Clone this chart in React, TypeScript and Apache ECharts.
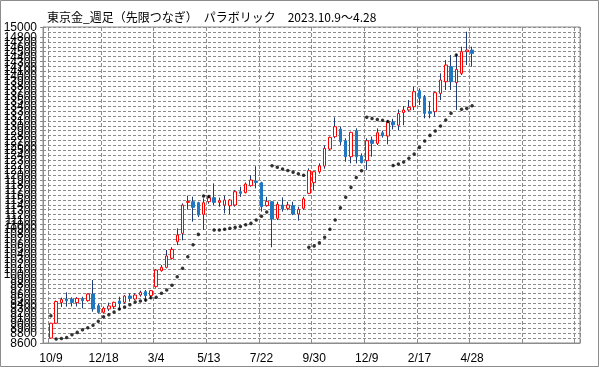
import React, { useEffect, useRef } from "react";
import * as echarts from "echarts";

const title = "東京金_週足（先限つなぎ）　パラボリック　2023.10.9～4.28";

const dates = [
  "10/9", "10/16", "10/23", "10/30", "11/6", "11/13", "11/20", "11/27", "12/4", "12/11", "12/18", "12/25",
  "1/8", "1/15", "1/22", "1/29", "2/5", "2/12", "2/19", "2/26", "3/4", "3/11", "3/18", "3/25",
  "4/1", "4/8", "4/15", "4/22", "4/29", "5/6", "5/13", "5/20", "5/27", "6/3", "6/10", "6/17", "6/24",
  "7/1", "7/8", "7/15", "7/22", "7/29", "8/5", "8/12", "8/19", "8/26", "9/2", "9/9", "9/16", "9/23",
  "9/30", "10/7", "10/14", "10/21", "10/28", "11/4", "11/11", "11/18", "11/25", "12/2", "12/9",
  "12/16", "12/23", "12/30", "1/6", "1/13", "1/20", "1/27", "2/3", "2/10", "2/17", "2/24", "3/3",
  "3/10", "3/17", "3/24", "3/31", "4/7", "4/14", "4/21", "4/28",
];

// [open, close, low, high]
const ohlc = [
  [8700, 9000, 8690, 9010], [9000, 9440, 8990, 9460], [9420, 9480, 9330, 9520], [9490, 9455, 9336, 9626],
  [9490, 9420, 9340, 9525], [9417, 9504, 9340, 9530], [9504, 9457, 9302, 9538], [9457, 9592, 9437, 9606],
  [9592, 9289, 9235, 9876], [9356, 9221, 9201, 9390], [9221, 9302, 9201, 9336], [9289, 9350, 9248, 9417],
  [9336, 9424, 9289, 9437], [9451, 9403, 9268, 9538], [9424, 9552, 9390, 9572], [9552, 9504, 9437, 9606],
  [9491, 9572, 9471, 9606], [9572, 9626, 9538, 9660], [9640, 9559, 9437, 9673], [9559, 9660, 9504, 9673],
  [9741, 10078, 9720, 10100], [10065, 10132, 10045, 10180], [10132, 10362, 10112, 10483], [10315, 10496, 10290, 10540],
  [10652, 10787, 10584, 10922], [10820, 11394, 10680, 11428], [11448, 11468, 11300, 11583], [11462, 11347, 11057, 11563],
  [11441, 11192, 11150, 11460], [11205, 11441, 10888, 11529], [11462, 11543, 11420, 11583], [11543, 11448, 11394, 11833],
  [11448, 11482, 11360, 11543], [11394, 11495, 11225, 11583], [11381, 11495, 11210, 11515], [11394, 11664, 11360, 11698],
  [11664, 11630, 11560, 11765], [11645, 11820, 11630, 11850], [11786, 11900, 11765, 12002], [11880, 11850, 11732, 12180],
  [11846, 11360, 11260, 11866], [11381, 11470, 11361, 11560], [11462, 11111, 10538, 11470], [11125, 11408, 11090, 11460],
  [11395, 11314, 11260, 11550], [11327, 11395, 11290, 11460], [11381, 11213, 11190, 11460], [11213, 11307, 11078, 11360],
  [11327, 11520, 11300, 11560], [11631, 12090, 11615, 12137], [11847, 12070, 11698, 12070], [12070, 12184, 12030, 12240],
  [12184, 12542, 12130, 12600], [12528, 12765, 12500, 12780], [12778, 12981, 12745, 13170], [12933, 12677, 12610, 12980],
  [12697, 12373, 12272, 12745], [12373, 12866, 12238, 12880], [12900, 12373, 12238, 12947], [12387, 12251, 12238, 12440],
  [12292, 12697, 12103, 12745], [12710, 12643, 12373, 12780], [12643, 12859, 12610, 12947], [12859, 12798, 12760, 12900],
  [12792, 13068, 12623, 13116], [13075, 13020, 12926, 13140], [13010, 13250, 12914, 13330], [13268, 13318, 13010, 13400],
  [13318, 13372, 13285, 13520], [13386, 13690, 13318, 13791], [13710, 13555, 13420, 13757], [13575, 13251, 13150, 13622],
  [13285, 13251, 13150, 13487], [13285, 13670, 13184, 13690], [13656, 13926, 13521, 14061], [13892, 14230, 13724, 14331],
  [14196, 13892, 13724, 14432], [13872, 14142, 13319, 14452], [14061, 14500, 14027, 14601], [14500, 14533, 14230, 14905],
  [14533, 14466, 14196, 14601],
];

const sar = [
  9150, 8681, 8690, 8710, 8765, 8815, 8870, 8910, 8960, 9040, 9130, 9170, 9228, 9289, 9329, 9376,
  9430, 9450, 9471, 9517, 9525, 9606, 9673, 9768, 9940, 10112, 10348, 10590, 10800, 11578, 11565,
  10888, 10888, 10902, 10922, 10942, 10960, 10995, 11023, 11090, 11165, 11253, 12191, 12158, 12125,
  12093, 12061, 12030, 11999, 10538, 10565, 10632, 10740, 10902, 11091, 11337, 11553, 11752, 11950,
  12090, 13170, 13149, 13128, 13110, 13088, 12195, 12225, 12265, 12340, 12430, 12562, 12690, 12805,
  12893, 12994, 13116, 13251, 14432, 13332, 13352, 13406,
];

const yMin = 8600;
const yMax = 15000;
const yStep = 100;
const leadSlots = 1;
const tailSlots = 20;

export default function App() {
  const ref = useRef<HTMLDivElement>(null);
  useEffect(() => {
    if (!ref.current) return;
    const chart = echarts.init(ref.current, null, { renderer: "svg" });
    const cats: string[] = [];
    for (let i = 0; i < leadSlots; i++) cats.push("");
    dates.forEach((d) => cats.push(d));
    for (let i = 0; i < tailSlots; i++) cats.push("");
    const isMajor = (idx: number) => (idx - leadSlots) % 10 === 0 && idx >= leadSlots;
    const wick = ohlc.map((d, i) => [i + leadSlots, d[0], d[1], d[2], d[3]]);
    const body = ohlc.map((d, i) => [i + leadSlots, d[0], d[1], Math.min(d[0], d[1]), Math.max(d[0], d[1])]);
    const dots = sar.map((v, i) => [i + leadSlots, v]);
    const gridColor = "#8c8c8c";
    chart.setOption({
      animation: false,
      title: {
        text: title,
        left: 42,
        top: 5,
        textStyle: { fontSize: 12, fontWeight: "normal", color: "#000", fontFamily: "Noto Sans CJK JP" },
      },
      graphic: [
        {
          type: "rect",
          shape: { x: 0.5, y: 0.5, width: 598, height: 366 },
          style: { fill: "none", stroke: "#8c8c8c", lineWidth: 1 },
          silent: true,
        },
      ],
      grid: {
        left: 43,
        right: 19,
        top: 27,
        bottom: 26,
        show: true,
        borderColor: gridColor,
        borderWidth: 1,
      },
      xAxis: {
        type: "category",
        data: cats,
        boundaryGap: true,
        axisLine: { lineStyle: { color: gridColor } },
        axisTick: { interval: (idx: number) => isMajor(idx), length: 4, lineStyle: { color: gridColor } },
        axisLabel: {
          interval: (idx: number) => isMajor(idx) && cats[idx] !== "",
          color: "#000",
          fontSize: 12,
          fontFamily: "Liberation Sans",
          margin: 9,
        },
        splitLine: {
          show: true,
          interval: (idx: number) => isMajor(idx),
          lineStyle: { color: gridColor, type: [4, 2], width: 1 },
        },
      },
      yAxis: {
        type: "value",
        min: yMin,
        max: yMax,
        interval: yStep,
        axisLine: { show: true, lineStyle: { color: gridColor } },
        axisTick: { show: true, length: 3, lineStyle: { color: gridColor } },
        axisLabel: {
          color: "#000",
          fontSize: 12,
          fontFamily: "Liberation Sans",
          margin: 6,
          showMinLabel: true,
          showMaxLabel: true,
          formatter: (v: number) => String(v),
        },
        splitLine: { show: true, lineStyle: { color: gridColor, type: [3, 2], width: 1 } },
      },
      series: [
        {
          type: "candlestick",
          data: wick,
          encode: { x: 0, y: [1, 2, 3, 4] },
          barWidth: 1,
          itemStyle: {
            color: "#1f3b73",
            color0: "#1f3b73",
            borderColor: "#1f3b73",
            borderColor0: "#1f3b73",
            borderWidth: 1,
          },
        },
        {
          type: "candlestick",
          data: body,
          encode: { x: 0, y: [1, 2, 3, 4] },
          barWidth: 3,
          itemStyle: {
            color: "#ffffff",
            color0: "#1f78c1",
            borderColor: "#ff0000",
            borderColor0: "#1f78c1",
            borderWidth: 1,
          },
        },
        {
          type: "scatter",
          data: dots,
          symbol: "circle",
          symbolSize: 3.5,
          itemStyle: { color: "#000" },
        },
      ],
    });
    return () => chart.dispose();
  }, []);
  return <div ref={ref} style={{ position: "fixed", left: 0, top: 0, width: 599, height: 369 }} />;
}
